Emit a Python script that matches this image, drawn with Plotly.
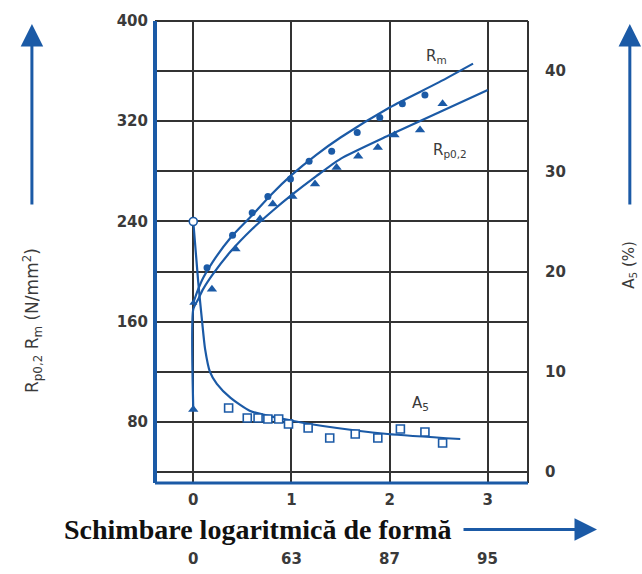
import plotly.graph_objects as go

# ---------------- data ----------------
# logarithmic change of form (x)
rm_line_x = [0, 0.05, 0.1, 0.2, 0.38, 0.6, 0.8, 1.0, 1.25, 1.5, 2.0, 2.5, 2.85]
rm_line_y = [175, 186, 195, 208, 227, 245, 262, 277, 293, 307, 331, 351, 366]

rp_line_x = [0, 0, 0.05, 0.1, 0.2, 0.38, 0.6, 0.8, 1.0, 1.25, 1.5, 2.0, 2.5, 3.0]
rp_line_y = [90, 170, 178, 186, 198, 216, 234, 248, 261, 276, 290, 309, 327, 345]

a5_line_x = [0, 0.05, 0.09, 0.12, 0.17, 0.24, 0.38, 0.58, 1.02, 1.32, 1.98, 2.72]
a5_line_y = [25, 19, 15, 12.3, 10.0, 8.8, 7.4, 6.1, 5.1, 4.6, 3.8, 3.3]

rm_pts_x = [0, 0.14, 0.40, 0.60, 0.76, 0.99, 1.18, 1.41, 1.67, 1.90, 2.13, 2.36]
rm_pts_y = [175, 203, 229, 247, 260, 274, 288, 296, 311, 323, 334, 341]

rp_pts_x = [0, 0.19, 0.43, 0.68, 0.81, 1.01, 1.24, 1.46, 1.68, 1.88, 2.05, 2.31, 2.54]
rp_pts_y = [90, 186, 218, 242, 254, 260, 270, 283, 292, 299, 309, 313, 334]

a5_pts_x = [0, 0.36, 0.55, 0.66, 0.76, 0.87, 0.97, 1.17, 1.39, 1.65, 1.88, 2.11, 2.36, 2.54]
a5_pts_y = [25, 6.4, 5.4, 5.4, 5.3, 5.3, 4.8, 4.4, 3.4, 3.8, 3.4, 4.3, 4.0, 2.9]

x_ticks = [0, 1, 2, 3]
x_ticks_reduction = ["0", "63", "87", "95"]
left_tickvals = [40, 80, 120, 160, 200, 240, 280, 320, 360, 400]
left_ticktext = ["", "80", "", "160", "", "240", "", "320", "", "400"]
right_tickvals = [0, 10, 20, 30, 40]

BLUE = "#1b5aa6"
GRID = "#333333"
TXT = "#3a3a3a"

fig = go.Figure()

fig.add_trace(go.Scatter(x=rm_line_x, y=rm_line_y, mode="lines",
                         line=dict(color=BLUE, width=2.2, shape="spline", smoothing=0.8),
                         yaxis="y"))
fig.add_trace(go.Scatter(x=rp_line_x, y=rp_line_y, mode="lines",
                         line=dict(color=BLUE, width=2.2, shape="spline", smoothing=0.6),
                         yaxis="y"))
fig.add_trace(go.Scatter(x=a5_line_x, y=a5_line_y, mode="lines",
                         line=dict(color=BLUE, width=2.2, shape="spline", smoothing=0.6),
                         yaxis="y2"))

rm_symbols = ["triangle-up"] + ["circle"] * (len(rm_pts_x) - 1)
fig.add_trace(go.Scatter(x=rm_pts_x, y=rm_pts_y, mode="markers",
                         marker=dict(color=BLUE, size=7, symbol=rm_symbols), yaxis="y"))
fig.add_trace(go.Scatter(x=rp_pts_x, y=rp_pts_y, mode="markers",
                         marker=dict(color=BLUE, size=9, symbol="triangle-up"), yaxis="y"))
a5_symbols = ["circle"] + ["square"] * (len(a5_pts_x) - 1)
fig.add_trace(go.Scatter(x=a5_pts_x, y=a5_pts_y, mode="markers",
                         marker=dict(color="white", size=8, symbol=a5_symbols,
                                     line=dict(color=BLUE, width=1.6)),
                         yaxis="y2"))

tickfont = dict(family="DejaVu Sans", size=15, color=TXT, weight="bold")

fig.update_layout(
    width=642, height=574,
    margin=dict(l=155, r=114, t=15, b=91),
    paper_bgcolor="white", plot_bgcolor="white",
    showlegend=False,
    xaxis=dict(range=[-0.39, 3.41], tickvals=x_ticks, ticktext=[str(v) for v in x_ticks],
               showgrid=True, gridcolor=GRID, gridwidth=1.8, zeroline=False,
               showline=False, ticks="", tickfont=tickfont, ticklabelstandoff=6),
    yaxis=dict(range=[31.3, 400], tickvals=left_tickvals, ticktext=left_ticktext,
               showgrid=True, gridcolor=GRID, gridwidth=1.8, zeroline=False,
               showline=False, ticks="", tickfont=tickfont, ticklabelstandoff=6),
    yaxis2=dict(range=[(31.3 - 40) / 8, (400 - 40) / 8], overlaying="y", side="right",
                tickvals=right_tickvals, showgrid=False, zeroline=False, showline=False,
                ticks="", tickfont=tickfont, ticklabelstandoff=16),
)

# plot frame
fig.add_shape(type="line", xref="paper", yref="paper", x0=0, x1=1, y0=1, y1=1,
              line=dict(color=GRID, width=2))
fig.add_shape(type="line", xref="paper", yref="paper", x0=1, x1=1, y0=0, y1=1,
              line=dict(color=GRID, width=2))
fig.add_shape(type="line", xref="paper", yref="paper", x0=0, x1=1, y0=0, y1=0,
              line=dict(color=BLUE, width=3))
fig.add_shape(type="line", xref="paper", yref="paper", x0=0, x1=0, y0=0, y1=1,
              line=dict(color=BLUE, width=4))

lab_font = dict(family="DejaVu Sans", size=15, color=TXT)
fig.add_annotation(x=2.48, y=372, xref="x", yref="y", text="R<sub>m</sub>",
                   showarrow=False, font=lab_font, xanchor="center", yanchor="middle")
fig.add_annotation(x=2.62, y=297, xref="x", yref="y", text="R<sub>p0,2</sub>",
                   showarrow=False, font=lab_font, xanchor="center", yanchor="middle")
fig.add_annotation(x=2.31, y=6.8, xref="x", yref="y2", text="A<sub>5</sub>",
                   showarrow=False, font=lab_font, xanchor="center", yanchor="middle")

# secondary x scale (reduction in %)
for xv, t in zip(x_ticks, x_ticks_reduction):
    fig.add_annotation(x=xv, y=-0.1645, xref="x", yref="paper", text=t,
                       showarrow=False, font=tickfont, xanchor="center", yanchor="middle")

# x axis title with arrow
fig.add_annotation(x=0.276, y=-0.1004, xref="paper", yref="paper",
                   text="Schimbare logaritmică de formă", showarrow=False,
                   xanchor="center", yanchor="middle",
                   font=dict(family="Liberation Serif", size=28, color="#111111", weight="bold"))
fig.add_annotation(x=1.185, y=-0.1004, xref="paper", yref="paper", text="",
                   showarrow=True, ax=-135, ay=0, arrowhead=2, arrowsize=1.5,
                   arrowwidth=3, arrowcolor=BLUE)

# left axis title + arrow
fig.add_annotation(x=-0.33, y=0.3526, xref="paper", yref="paper",
                   text="R<sub>p0,2</sub> R<sub>m</sub> (N/mm<sup>2</sup>)",
                   textangle=-90, showarrow=False,
                   font=dict(family="DejaVu Sans", size=17, color=TXT),
                   xanchor="center", yanchor="middle")
fig.add_annotation(x=-0.33, y=0.9936, xref="paper", yref="paper", text="",
                   showarrow=True, ax=0, ay=182, arrowhead=2, arrowsize=1.5,
                   arrowwidth=3, arrowcolor=BLUE)

# right axis title + arrow
fig.add_annotation(x=1.273, y=0.472, xref="paper", yref="paper",
                   text="A<sub>5</sub> (%)", textangle=-90, showarrow=False, font=lab_font,
                   xanchor="center", yanchor="middle")
fig.add_annotation(x=1.273, y=0.9936, xref="paper", yref="paper", text="",
                   showarrow=True, ax=0, ay=182, arrowhead=2, arrowsize=1.5,
                   arrowwidth=3, arrowcolor=BLUE)

fig.write_html("out.html")
